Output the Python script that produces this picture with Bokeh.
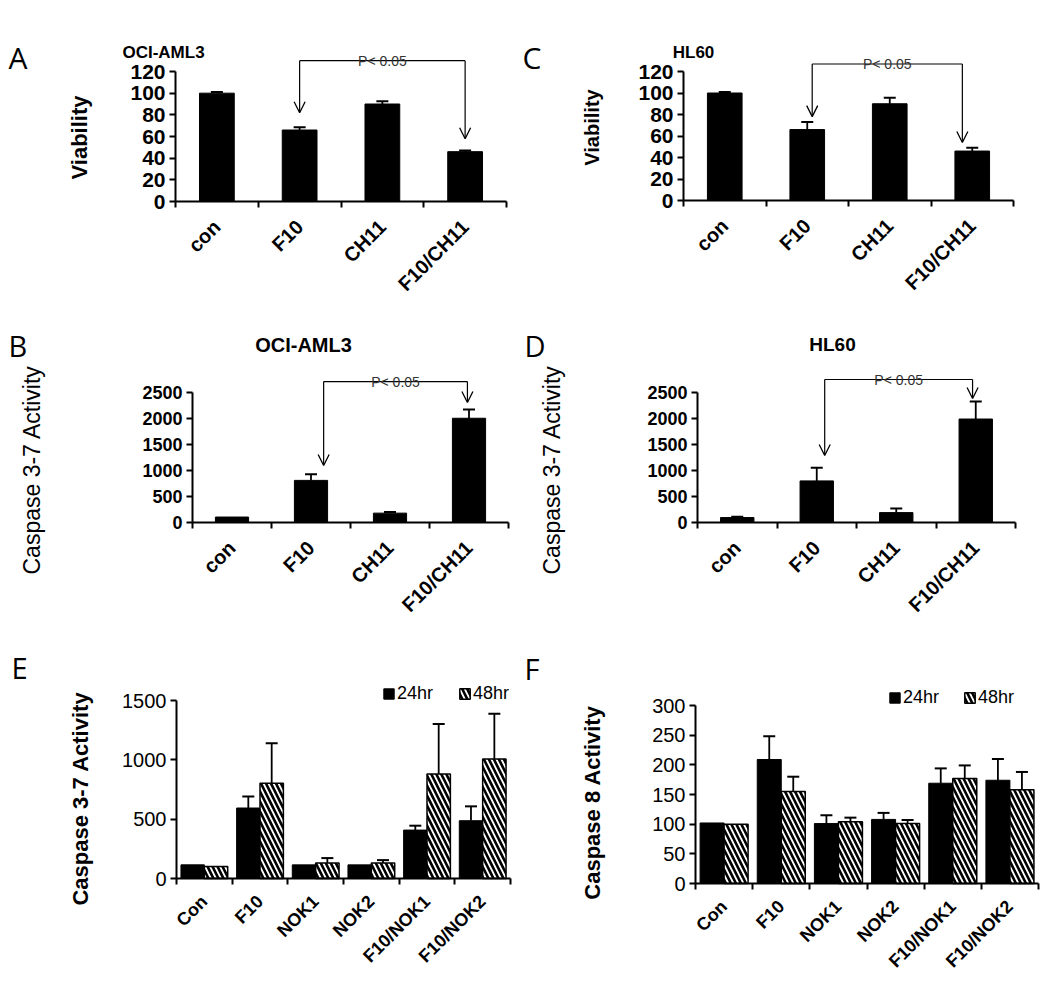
import math
from bokeh.plotting import figure
from bokeh.models import (ColumnDataSource, FixedTicker, Label, Arrow, OpenHead,
                          Legend, LegendItem, Range1d, CustomJSTickFormatter)
from bokeh.layouts import column, row
from bokeh.embed import file_html
from bokeh.resources import INLINE

# ---------------- data ----------------
cats_top = ["con", "F10", "CH11", "F10/CH11"]
viab_aml3 = [100, 66, 90, 46]
viab_aml3_err = [1, 2.5, 2.5, 1]
viab_hl60 = [100, 66, 90, 46]
viab_hl60_err = [1, 7, 5.5, 3]
casp37_aml3 = [105, 810, 180, 2005]
casp37_aml3_err = [0, 118, 22, 170]
casp37_hl60 = [95, 800, 190, 1990]
casp37_hl60_err = [15, 255, 80, 335]

cats_bottom = ["Con", "F10", "NOK1", "NOK2", "F10/NOK1", "F10/NOK2"]
e_24hr = [115, 594, 115, 115, 408, 487]
e_24hr_err = [0, 98, 0, 0, 37, 121]
e_48hr = [101, 802, 130, 130, 881, 1008]
e_48hr_err = [0, 338, 42, 25, 422, 380]
f_24hr = [102, 209, 101, 108, 169, 174]
f_24hr_err = [0, 39, 14, 11, 25, 36]
f_48hr = [100, 155, 104, 101, 177, 158]
f_48hr_err = [0, 25, 7, 6, 22, 30]

yticks_viab = [0, 20, 40, 60, 80, 100, 120]
yticks_casp37 = [0, 500, 1000, 1500, 2000, 2500]
yticks_e = [0, 500, 1000, 1500]
yticks_f = [0, 50, 100, 150, 200, 250, 300]

# significance brackets: (category positions, bracket height, arrow tip values)
brk_A = dict(x=[1.5, 3.5], top=130, tips=[82, 58])
brk_C = dict(x=[1.56, 3.38], top=127, tips=[78, 54])
brk_B = dict(x=[1.66, 3.48], top=2710, tips=[1096, 2308])
brk_D = dict(x=[1.6, 3.46], top=2750, tips=[1290, 2385])
p_text = "P< 0.05"

# ---------------- layout geometry (page px) ----------------
# origin, canvas size, axis extent (left, right, baseline), pixel row of top tick
geom = {
    "A": dict(origin=(0, 0), size=(520, 318), frame=(175, 506, 201), ytop_px=71),
    "C": dict(origin=(520, 0), size=(522, 318), frame=(683, 1013, 200), ytop_px=71),
    "B": dict(origin=(0, 318), size=(520, 300), frame=(192, 508, 522), ytop_px=392),
    "D": dict(origin=(520, 318), size=(522, 300), frame=(697, 1015, 522), ytop_px=392),
    "E": dict(origin=(0, 618), size=(520, 359), frame=(176, 510, 878), ytop_px=700),
    "F": dict(origin=(520, 618), size=(522, 359), frame=(695, 1038, 883), ytop_px=705),
}

SANS = "Liberation Sans"
LETTER = "Open Sans"


def new_fig(g, cats, yticks, ytick_size, ytick_bold, cat_size, cat_standoff):
    ox, oy = g["origin"]
    W, H = g["size"]
    AL, AR, AB = g["frame"]
    n = len(cats)
    ytop = yticks[-1]
    ppx = (AR - AL) / n
    ppy = (AB - g["ytop_px"]) / ytop
    xr = Range1d((ox - AL) / ppx, (ox + W - AL) / ppx)
    yr = Range1d(-(oy + H - AB) / ppy, (AB - oy) / ppy)
    p = figure(width=W, height=H, x_range=xr, y_range=yr,
               output_backend="svg", toolbar_location=None, tools="",
               min_border=0)
    p.outline_line_color = None
    p.xgrid.visible = False
    p.ygrid.visible = False
    p.background_fill_color = "white"
    p.border_fill_color = "white"

    yax = p.yaxis[0]
    yax.fixed_location = 0
    yax.ticker = FixedTicker(ticks=yticks)
    yax.bounds = (0, ytop)
    yax.axis_line_width = 2
    yax.axis_line_color = "black"
    yax.major_tick_in = 0
    yax.major_tick_out = 6
    yax.major_tick_line_width = 2
    yax.major_tick_line_color = "black"
    yax.minor_tick_line_color = None
    yax.major_label_text_font = SANS
    yax.major_label_text_font_size = f"{ytick_size}px"
    yax.major_label_text_font_style = "bold" if ytick_bold else "normal"
    yax.major_label_text_color = "black"
    yax.major_label_standoff = 4

    xax = p.xaxis[0]
    xax.fixed_location = 0
    centers = [i + 0.5 for i in range(n)]
    xax.ticker = FixedTicker(ticks=centers, minor_ticks=list(range(n + 1)))
    xax.bounds = (0, n)
    xax.formatter = CustomJSTickFormatter(args=dict(labels=cats),
                                          code="return labels[Math.round(tick - 0.5)];")
    xax.axis_line_width = 2
    xax.axis_line_color = "black"
    xax.major_tick_in = 0
    xax.major_tick_out = 0
    xax.minor_tick_in = 0
    xax.minor_tick_out = 6
    xax.minor_tick_line_width = 2
    xax.minor_tick_line_color = "black"
    xax.major_label_orientation = math.pi / 4
    xax.major_label_standoff = cat_standoff
    xax.major_label_text_font = SANS
    xax.major_label_text_font_size = f"{cat_size}px"
    xax.major_label_text_font_style = "bold"
    xax.major_label_text_color = "black"
    return p


def add_text(p, g, px, py, text, size, font=SANS, bold=False, align="center",
             baseline="middle", angle=0.0, color="black"):
    ox, oy = g["origin"]
    W, H = g["size"]
    p.add_layout(Label(x=px - ox, y=oy + H - py, x_units="screen", y_units="screen",
                       text=text, text_font=font, text_font_size=f"{size}px",
                       text_font_style="bold" if bold else "normal",
                       text_align=align, text_baseline=baseline, angle=angle,
                       text_color=color))


def add_bars(p, xs, tops, errs, width, hatched=False):
    src = ColumnDataSource(dict(x=xs, top=tops))
    if hatched:
        r = p.vbar(x="x", top="top", bottom=0, width=width, source=src,
                   fill_color="white", line_color="black", line_width=1.5,
                   hatch_pattern="\\", hatch_color="black", hatch_scale=10,
                   hatch_weight=2.6)
    else:
        r = p.vbar(x="x", top="top", bottom=0, width=width, source=src,
                   fill_color="black", line_color="black", line_width=1)
    ex = [x for x, e in zip(xs, errs) if e > 0]
    ey0 = [t for t, e in zip(tops, errs) if e > 0]
    ey1 = [t + e for t, e in zip(tops, errs) if e > 0]
    esrc = ColumnDataSource(dict(x=ex, y0=ey0, y1=ey1))
    p.segment(x0="x", y0="y0", x1="x", y1="y1", source=esrc, line_color="black", line_width=1.8)
    p.scatter(x="x", y="y1", marker="dash", size=12, source=esrc, line_color="black", line_width=2)
    return r


def add_bracket(p, brk, label_size=14):
    (x1, x2), top, (t1, t2) = brk["x"], brk["top"], brk["tips"]
    p.segment(x0=[x1], y0=[top], x1=[x2], y1=[top], line_color="black", line_width=1.2)
    for x, t in ((x1, t1), (x2, t2)):
        p.add_layout(Arrow(end=OpenHead(size=11, line_width=1.3, line_color="black"),
                           x_start=x, y_start=top, x_end=x, y_end=t,
                           line_width=1.2, line_color="black"))
    p.add_layout(Label(x=(x1 + x2) / 2, y=top, text=p_text, text_font=SANS,
                       text_font_size=f"{label_size}px", text_align="center",
                       text_baseline="alphabetic", text_color="#333333"))


def single_panel(key, cats, vals, errs, yticks, brk, ytick_size, cat_size):
    g = geom[key]
    p = new_fig(g, cats, yticks, ytick_size, True, cat_size, 16)
    xs = [i + 0.5 for i in range(len(cats))]
    add_bars(p, xs, vals, errs, 0.42)
    add_bracket(p, brk)
    return p


def double_panel(key, cats, v24, e24, v48, e48, yticks):
    g = geom[key]
    p = new_fig(g, cats, yticks, 20, False, 18, 14)
    xs24 = [i + 0.5 - 0.21 for i in range(len(cats))]
    xs48 = [i + 0.5 + 0.21 for i in range(len(cats))]
    r24 = add_bars(p, xs24, v24, e24, 0.42)
    r48 = add_bars(p, xs48, v48, e48, 0.42, hatched=True)
    return p, r24, r48


# ---------- A ----------
pA = single_panel("A", cats_top, viab_aml3, viab_aml3_err, yticks_viab, brk_A, 21, 20)
add_text(pA, geom["A"], 8, 57, "A", 30, font=LETTER, align="left")
add_text(pA, geom["A"], 163, 52, "OCI-AML3", 17, bold=True)
add_text(pA, geom["A"], 79, 137, "Viability", 22, bold=True, angle=math.pi / 2)

# ---------- C ----------
pC = single_panel("C", cats_top, viab_hl60, viab_hl60_err, yticks_viab, brk_C, 21, 20)
add_text(pC, geom["C"], 522, 57, "C", 30, font=LETTER, align="left")
add_text(pC, geom["C"], 693, 52, "HL60", 17, bold=True)
add_text(pC, geom["C"], 591, 127, "Viability", 20, bold=True, angle=math.pi / 2)

# ---------- B ----------
pB = single_panel("B", cats_top, casp37_aml3, casp37_aml3_err, yticks_casp37, brk_B, 18, 20)
add_text(pB, geom["B"], 8, 345, "B", 29, font=LETTER, align="left")
add_text(pB, geom["B"], 303, 344, "OCI-AML3", 20, bold=True)
add_text(pB, geom["B"], 31, 466, "Caspase 3-7  Activity", 23, angle=math.pi / 2)

# ---------- D ----------
pD = single_panel("D", cats_top, casp37_hl60, casp37_hl60_err, yticks_casp37, brk_D, 18, 20)
add_text(pD, geom["D"], 524, 345, "D", 29, font=LETTER, align="left")
add_text(pD, geom["D"], 832, 344, "HL60", 19, bold=True)
add_text(pD, geom["D"], 551, 466, "Caspase 3-7  Activity", 23, angle=math.pi / 2)

# ---------- E ----------
pE, rE24, rE48 = double_panel("E", cats_bottom, e_24hr, e_24hr_err, e_48hr, e_48hr_err, yticks_e)
add_text(pE, geom["E"], 11, 667, "E", 29, font=LETTER, align="left")
add_text(pE, geom["E"], 80, 795, "Caspase 3-7  Activity", 22, bold=True, angle=math.pi / 2)

# ---------- F ----------
pF, rF24, rF48 = double_panel("F", cats_bottom, f_24hr, f_24hr_err, f_48hr, f_48hr_err, yticks_f)
add_text(pF, geom["F"], 524, 668, "F", 29, font=LETTER, align="left")
add_text(pF, geom["F"], 592, 802, "Caspase 8 Activity", 22, bold=True, angle=math.pi / 2)


def add_legend(p, g, r24, r48, px_left, py_bottom, spacing):
    ox, oy = g["origin"]
    W, H = g["size"]
    leg = Legend(items=[LegendItem(label="24hr", renderers=[r24]),
                        LegendItem(label="48hr", renderers=[r48])],
                 location=(px_left - ox, oy + H - py_bottom), orientation="horizontal",
                 border_line_color=None, background_fill_alpha=0,
                 glyph_width=13, glyph_height=13, label_standoff=2, spacing=spacing,
                 padding=0, margin=0, label_text_font=SANS,
                 label_text_font_size="18px", label_text_color="black")
    p.add_layout(leg)


add_legend(pE, geom["E"], rE24, rE48, 382, 704, 25)
add_legend(pF, geom["F"], rF24, rF48, 888, 708, 24)

layout = column(row(pA, pC), row(pB, pD), row(pE, pF))
open("out.html", "w").write(file_html(layout, INLINE))
